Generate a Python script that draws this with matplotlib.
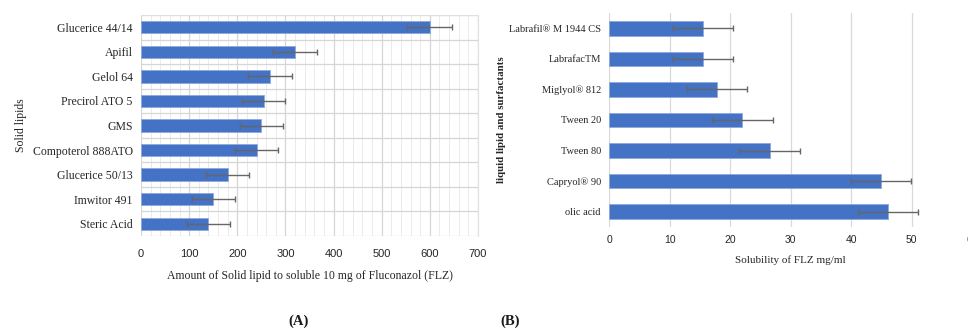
import matplotlib
matplotlib.use("Agg")
import matplotlib.pyplot as plt
from matplotlib.ticker import MultipleLocator

# ======== data ========
solid_lipids = ["Glucerice 44/14", "Apifil", "Gelol 64", "Precirol ATO 5", "GMS",
                "Compoterol 888ATO", "Glucerice 50/13", "Imwitor 491", "Steric Acid"]
solid_amount = [600, 320, 268, 255, 250, 240, 180, 150, 140]
solid_err = [47, 45, 45, 45, 45, 45, 45, 45, 45]

liquid_lipids = ["Labrafil® M 1944 CS", "LabrafacTM", "Miglyol® 812", "Tween 20",
                 "Tween 80", "Capryol® 90", "olic acid"]
liquid_solubility = [15.5, 15.5, 17.8, 22.0, 26.5, 44.9, 46.1]
liquid_err = [5, 5, 5, 5, 5, 5, 5]

BAR = "#4472C4"
ERR = "#666666"
TXT = "#262626"
SERIF = ["Liberation Serif", "DejaVu Serif"]
SANS = ["Liberation Sans", "DejaVu Sans"]
err_style = dict(ecolor=ERR, elinewidth=1.0, capsize=2.5, capthick=1.0, zorder=5)

fig = plt.figure(figsize=(9.68, 3.35), dpi=100)

# ======== (A) solid lipids ========
ax1 = fig.add_axes([0.1457, 0.2955, 0.3481, 0.6597])
y1 = list(range(len(solid_lipids)))
ax1.barh(y1, solid_amount, height=0.5, color=BAR, edgecolor="#8fa9dc", linewidth=0.6,
         xerr=solid_err, error_kw=err_style, zorder=3)
ax1.set_ylim(len(solid_lipids) - 0.5, -0.5)
ax1.set_xlim(0, 700)
ax1.xaxis.set_major_locator(MultipleLocator(100))
ax1.xaxis.set_minor_locator(MultipleLocator(20))
ax1.set_yticks(y1)
ax1.set_yticks([i + 0.5 for i in range(-1, len(solid_lipids))], minor=True)
ax1.set_yticklabels(solid_lipids, family=SERIF, fontsize=8.5, color=TXT)
for lab in ax1.get_xticklabels():
    lab.set_family(SANS)
    lab.set_fontsize(8)
    lab.set_color(TXT)
ax1.grid(which="major", axis="x", color="#d6d6d6", linewidth=0.9, zorder=0)
ax1.grid(which="minor", axis="x", color="#ebebeb", linewidth=0.7, zorder=0)
ax1.grid(which="minor", axis="y", color="#d6d6d6", linewidth=0.9, zorder=0)
ax1.tick_params(which="both", length=0)
ax1.tick_params(axis="x", pad=9)
ax1.tick_params(axis="y", pad=6)
for s in ["left", "bottom"]:
    ax1.spines[s].set_visible(False)
for s in ["top", "right"]:
    ax1.spines[s].set_color("#e0e0e0")
ax1.set_xlabel("Amount of Solid lipid to soluble 10 mg of Fluconazol (FLZ)",
               family=SERIF, fontsize=8.5, color=TXT, labelpad=8)
ax1.set_ylabel("Solid lipids", family=SERIF, fontsize=8.5, color=TXT, labelpad=4)

# ======== (B) liquid lipids and surfactants ========
ax2 = fig.add_axes([0.6294, 0.3224, 0.375, 0.6388])
y2 = list(range(len(liquid_lipids)))
ax2.barh(y2, liquid_solubility, height=0.48, color=BAR, edgecolor="#8fa9dc", linewidth=0.6,
         xerr=liquid_err, error_kw=err_style, zorder=3)
ax2.set_ylim(len(liquid_lipids) - 0.5, -0.5)
ax2.set_xlim(0, 60)
ax2.xaxis.set_major_locator(MultipleLocator(10))
ax2.set_yticks(y2)
ax2.set_yticklabels(liquid_lipids, family=SERIF, fontsize=7.5, color=TXT)
for lab in ax2.get_xticklabels():
    lab.set_family(SANS)
    lab.set_fontsize(7.5)
    lab.set_color(TXT)
ax2.grid(axis="x", color="#d9d9d9", linewidth=0.9, zorder=0)
ax2.tick_params(length=0, pad=6)
for s in ax2.spines.values():
    s.set_visible(False)
ax2.set_xlabel("Solubility of FLZ mg/ml", family=SERIF, fontsize=8, color=TXT, labelpad=7)
ax2.set_ylabel("liquid lipid and surfactants", family=SERIF, fontsize=7.8, color=TXT,
               fontweight="bold", labelpad=2)

# ======== panel letters ========
fig.text(0.308, 0.04, "(A)", family=SERIF, fontsize=10.5, fontweight="bold",
         color="#1a1a1a", ha="center", va="center")
fig.text(0.527, 0.04, "(B)", family=SERIF, fontsize=10.5, fontweight="bold",
         color="#1a1a1a", ha="center", va="center")

fig.savefig("out.png", dpi=100)
